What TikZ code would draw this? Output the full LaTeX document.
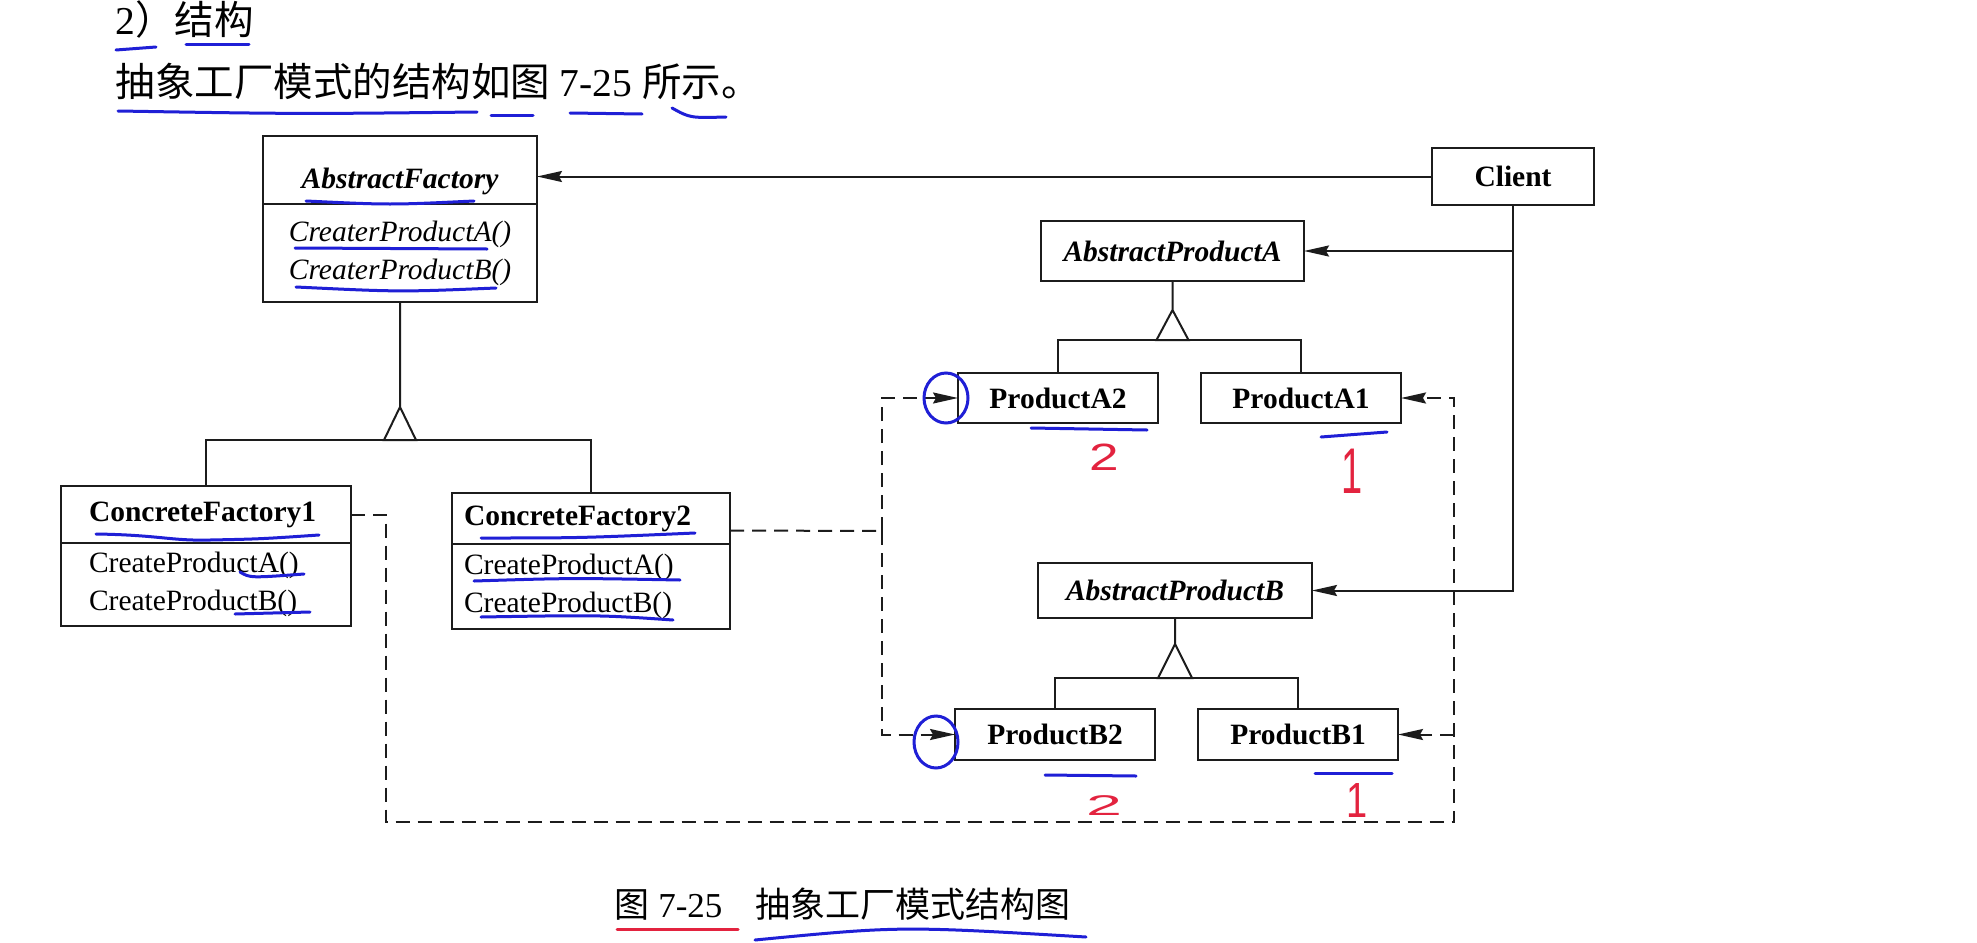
\documentclass[tikz,border=0pt]{standalone}
\usepackage{fontspec}
\setmainfont{Liberation Serif}
\newfontfamily\cjkfont{Noto Sans CJK SC}
\newfontfamily\handsans{Liberation Sans}
\usetikzlibrary{arrows.meta,positioning,calc}
\definecolor{UmlInk}{HTML}{1C1C1C}
\definecolor{PenBlue}{HTML}{1F1FD6}
\definecolor{PenRed}{HTML}{E3233F}
\newcommand\umlfont{\fontsize{29.5}{38}\selectfont}
\newcommand\headfont{\fontsize{39.5}{47}\selectfont}
\newcommand\capfont{\fontsize{35}{42}\selectfont}
\tikzset{
  box/.style={draw=UmlInk,line width=2.2pt,inner sep=0pt,outer sep=0pt,
    align=center,font=\umlfont},
  absname/.style={box,font=\umlfont\bfseries\itshape},
  conname/.style={box,font=\umlfont\bfseries,align=left},
  ops/.style={box,align=left},
  prod/.style={box,font=\umlfont\bfseries,minimum width=200pt,minimum height=50pt},
  assoc/.style={-{Stealth[length=25pt,width=11pt,inset=3pt]},line width=2pt,draw=UmlInk},
  dep/.style={assoc,dash pattern=on 14pt off 8pt},
  gen/.style={line width=2pt,draw=UmlInk},
  pen/.style={line width=3pt,draw=PenBlue,line cap=round},
  hand/.style={text=PenRed,font=\handsans\fontsize{38}{38}\selectfont,inner sep=0pt}
}
\begin{document}
\begin{tikzpicture}[x=1pt,y=-1pt]
  \path[fill=white] (0,0) rectangle (1977,942);
  \useasboundingbox (0,0) rectangle (1977,942);
  \node[anchor=base west,font=\headfont] (sec) at (112,35) {2{\cjkfont ）结构}};
  \node[anchor=base west,font=\headfont] (intro) at (112,96)
    {{\cjkfont 抽象工厂模式的结构如图} 7-25 {\cjkfont 所示。}};
  \node[absname,minimum width=274pt,minimum height=68pt,text height=40pt,text depth=4pt,
    anchor=north west] (af) at (263,136) {AbstractFactory};
  \node[ops,font=\umlfont\itshape,align=center,minimum width=274pt,minimum height=98pt,
    below=0pt of af] (afops) {CreaterProductA()\\CreaterProductB()};
  \node[conname,text width=234pt,inner xsep=28pt,minimum height=57pt,anchor=north west]
    (cf1) at (61,486) {ConcreteFactory1};
  \node[ops,text width=234pt,inner xsep=28pt,minimum height=83pt,below=0pt of cf1]
    (cf1ops) {CreateProductA()\\CreateProductB()};
  \node[conname,text width=254pt,inner xsep=12pt,minimum height=51pt,anchor=north west]
    (cf2) at (452,493) {ConcreteFactory2};
  \node[ops,text width=254pt,inner xsep=12pt,minimum height=85pt,below=0pt of cf2]
    (cf2ops) {CreateProductA()\\CreateProductB()};
  \node[box,font=\umlfont\bfseries,minimum width=162pt,minimum height=57pt,anchor=north west]
    (cl) at (1432,148) {Client};
  \node[absname,minimum width=263pt,minimum height=60pt,anchor=north west]
    (apa) at (1041,221) {AbstractProductA};
  \node[prod,anchor=north west] (pa2) at (958,373) {ProductA2};
  \node[prod,right=43pt of pa2] (pa1) {ProductA1};
  \node[absname,minimum width=274pt,minimum height=55pt,anchor=north west]
    (apb) at (1038,563) {AbstractProductB};
  \node[prod,minimum height=51pt,anchor=north west] (pb2) at (955,709) {ProductB2};
  \node[prod,minimum height=51pt,right=43pt of pb2] (pb1) {ProductB1};
  \node[anchor=base west,font=\capfont] (cap) at (611,917)
    {{\cjkfont 图} 7-25\hspace{33pt}{\cjkfont 抽象工厂模式结构图}};
  \coordinate (aftip) at ($(afops.south)+(0,105)$);
  \coordinate (atip) at ($(apa.south)+(0,29)$);
  \coordinate (btip) at ($(apb.south)+(0,26)$);
  \coordinate (lj) at (882,531);
  \coordinate (fb) at (386,822);
  \coordinate (rj) at (1454,822);
  \draw[assoc] (cl.west) -- (cl.west -| af.east);
  \draw[assoc] (cl.south) |- (apb.east);
  \draw[assoc] (cl.south |- apa.east) -- (apa.east);
  \draw[gen] (afops.south) -- (aftip) (aftip) -- ++(-16,33) -- ++(32,0) -- cycle;
  \draw[gen] (cf1.north) |- ($(aftip)+(0,33)$) -| (cf2.north);
  \draw[gen] (apa.south) -- (atip) (atip) -- ++(-16,30) -- ++(32,0) -- cycle;
  \draw[gen] (pa2.north) |- ($(atip)+(0,30)$) -| (pa1.north);
  \draw[gen] (apb.south) -- (btip) (btip) -- ++(-17,34) -- ++(34,0) -- cycle;
  \draw[gen] (pb2.north) |- ($(btip)+(0,34)$) -| (pb1.north);
  \draw[dep,-] ([yshift=-12pt]cf2.east) -- (lj);
  \draw[dep] (lj) |- (pa2.west);
  \draw[dep] (lj) |- (pb2.west);
  \draw[dep] (cf1.east) -| (fb) -- (rj) |- (pa1.east);
  \draw[dep] (rj |- pb1.east) -- (pb1.east);
  \draw[pen] (116,50) -- (156,47);
  \draw[pen] (186,45) -- (249,45);
  \draw[pen] (118,111) .. controls (300,114) .. (477,112);
  \draw[pen] (491,115) -- (533,115);
  \draw[pen] (570,113) -- (642,114);
  \draw[pen] (672,108) .. controls (690,118) .. (726,117);
  \draw[pen] (306,201) .. controls (390,205) .. (474,201);
  \draw[pen] (295,248) -- (487,249);
  \draw[pen] (296,287) .. controls (400,292) .. (496,288);
  \draw[pen] (96,534) .. controls (160,535) and (170,541) .. (210,540) .. controls (260,539) .. (319,535);
  \draw[pen] (240,572) .. controls (250,578) .. (304,574);
  \draw[pen] (235,614) -- (310,612);
  \draw[pen] (481,538) .. controls (580,538) .. (695,533);
  \draw[pen] (474,581) .. controls (570,578) .. (680,580);
  \draw[pen] (481,617) .. controls (600,615) .. (673,620);
  \draw[pen] (1031,428) -- (1147,430);
  \draw[pen] (1321,437) -- (1387,432);
  \draw[pen] (1045,775) -- (1136,776);
  \draw[pen] (1315,773) -- (1392,773);
  \draw[pen] (946,398) ellipse [x radius=22pt,y radius=25pt];
  \draw[pen] (936,742) ellipse [x radius=22pt,y radius=26pt];
  \draw[pen] (755,940) .. controls (900,926) .. (1086,937);
  \draw[pen,draw=PenRed] (617,929) -- (738,929);
  \node[hand] (m2a) at (1104,457) {\scalebox{1.4}[1]{2}};
  \node[hand] (m1a) at (1352,471) {\scalebox{1}[1.7]{1}};
  \node[hand] (m2b) at (1104,806) {\scalebox{1.7}[0.75]{2}};
  \node[hand] (m1b) at (1357,800) {\scalebox{1}[1.3]{1}};
\end{tikzpicture}
\end{document}
